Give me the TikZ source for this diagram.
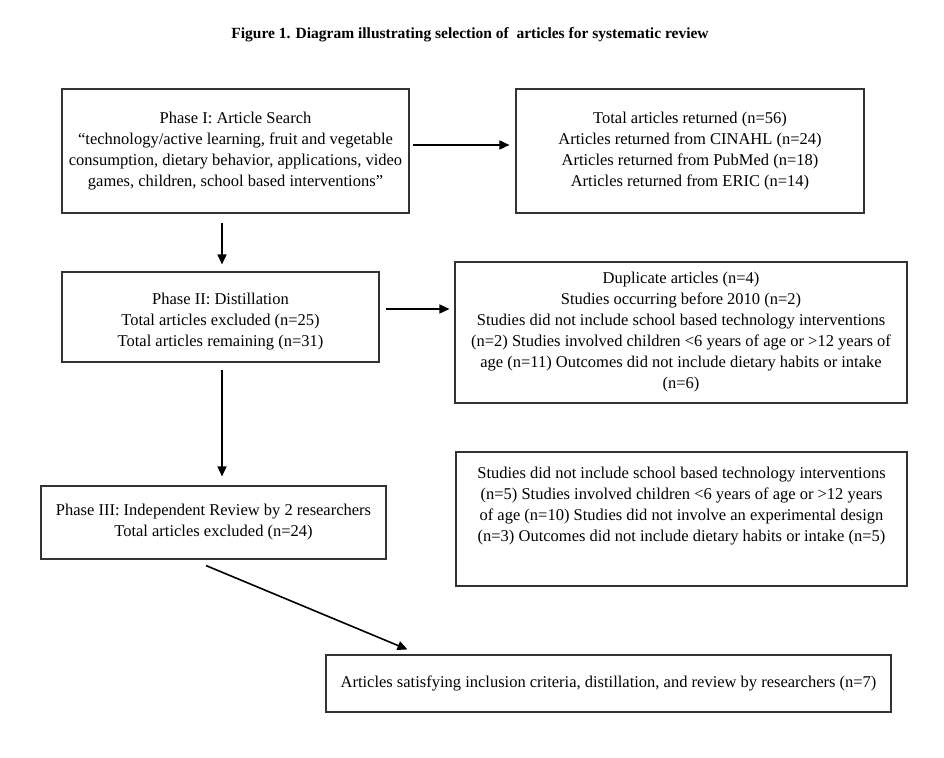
\documentclass[tikz,border=0pt]{standalone}
\usepackage{fontspec}
\setmainfont{Liberation Serif}
\usetikzlibrary{arrows.meta}
\begin{document}
\begin{tikzpicture}[x=1pt,y=-1pt,
  box/.style={draw=black!80,line width=1.1pt,inner sep=0pt,align=center,
    font=\fontsize{16.5}{21}\selectfont},
  txt/.style={inner sep=0pt,align=center,font=\fontsize{16.5}{21}\selectfont},
  arr/.style={line width=1.6pt,-{Triangle[length=10pt,width=9pt]}}]
\useasboundingbox[fill=white] (0,0) rectangle (944,757);
\node[inner sep=0pt,font=\bfseries\fontsize{15.5}{18}\selectfont] (title) at (470,35)
  {Figure 1. Diagram illustrating selection of~ articles for systematic review};
\node[box,minimum width=347pt,minimum height=124pt] (b1) at (235.5,151)
  {Phase I: Article Search\\``technology/active learning, fruit and vegetable\\consumption, dietary behavior, applications, video\\games, children, school based interventions''};
\node[box,minimum width=348pt,minimum height=124pt] (b2) at (690,151)
  {Total articles returned (n=56)\\Articles returned from CINAHL (n=24)\\Articles returned from PubMed (n=18)\\Articles returned from ERIC (n=14)};
\node[box,minimum width=317pt,minimum height=90pt] (b3) at (220.5,317) {};
\node[txt] (t3) at (220.5,322)
  {Phase II: Distillation\\Total articles excluded (n=25)\\Total articles remaining (n=31)};
\node[box,minimum width=452pt,minimum height=141pt] (b4) at (681,332.5)
  {Duplicate articles (n=4)\\Studies occurring before 2010 (n=2)\\Studies did not include school based technology interventions\\(n=2) Studies involved children <6 years of age or >12 years of\\age (n=11) Outcomes did not include dietary habits or intake\\(n=6)};
\node[box,minimum width=345pt,minimum height=73pt] (b5) at (213.5,522.5)
  {Phase III: Independent Review by 2 researchers\\Total articles excluded (n=24)};
\node[box,minimum width=451pt,minimum height=134pt] (b6) at (681.5,519) {};
\node[txt] (t6) at (681.5,506.5)
  {Studies did not include school based technology interventions\\(n=5) Studies involved children <6 years of age or >12 years\\of age (n=10) Studies did not involve an experimental design\\(n=3) Outcomes did not include dietary habits or intake (n=5)};
\node[box,minimum width=565pt,minimum height=57pt] (b7) at (608.5,683.5)
  {Articles satisfying inclusion criteria, distillation, and review by researchers (n=7)};
\draw[arr] ([xshift=3pt,yshift=6pt]b1.east) -- ([xshift=-6pt,yshift=6pt]b2.west);
\draw[arr] ([xshift=-13.5pt,yshift=-9pt]b1.south) -- ([xshift=1.5pt,yshift=7pt]b3.north);
\draw[arr] ([xshift=6pt,yshift=8pt]b3.east) -- ([xshift=-5pt,yshift=23.5pt]b4.west);
\draw[arr] ([xshift=1.5pt,yshift=-7pt]b3.south) -- ([xshift=8.5pt,yshift=9pt]b5.north);
\draw[arr] ([xshift=-7.5pt,yshift=-6pt]b5.south) -- ([xshift=82pt,yshift=5pt]b7.north west);
\end{tikzpicture}
\end{document}
